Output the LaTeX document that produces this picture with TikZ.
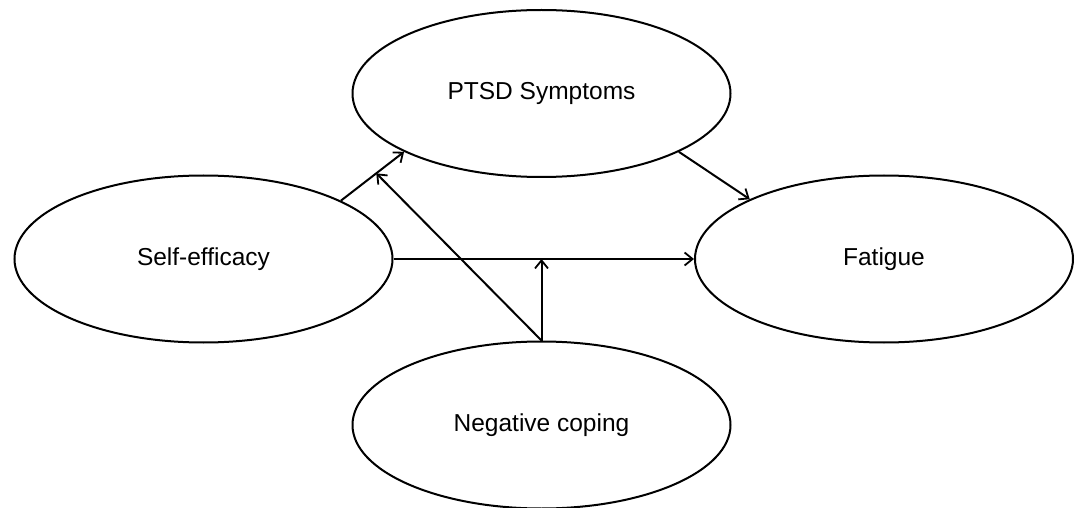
\documentclass[tikz,border=0pt]{standalone}
\usepackage{fontspec}
\setmainfont{Liberation Sans}
\usetikzlibrary{arrows.meta,calc,shapes.geometric}
\begin{document}
\begin{tikzpicture}[x=1pt,y=-1pt,
  var/.style={draw, line width=2pt, ellipse, minimum width=378pt, minimum height=167pt, inner sep=0pt, font=\fontsize{24.5}{28}\selectfont},
  conn/.style={line width=2pt, -{Straight Barb[length=8pt,width=13pt,line width=1.8pt]}}]
\useasboundingbox (0,0) rectangle (1080,508);
\node[var] (se) at (203.5,259) {Self-efficacy};
\node[var] (ptsd) at (541.5,93.5) {PTSD Symptoms};
\node[var] (fat) at (884,259) {Fatigue};
\node[var] (nc) at (541.5,425) {Negative coping};
\draw[conn] (se.23.7) -- (ptsd.203.7);
\draw[conn] (ptsd.-23.5) -- (fat.156.4);
\draw[conn] (se.east) -- (fat.west);
\coordinate (m1) at (nc.north |- se.east);
\coordinate (m2) at ($(se.23.7)!0.56!(ptsd.203.7)$);
\draw[conn] (nc.north) -- (m1);
\draw[conn] (nc.north) -- (m2);
\end{tikzpicture}
\end{document}
